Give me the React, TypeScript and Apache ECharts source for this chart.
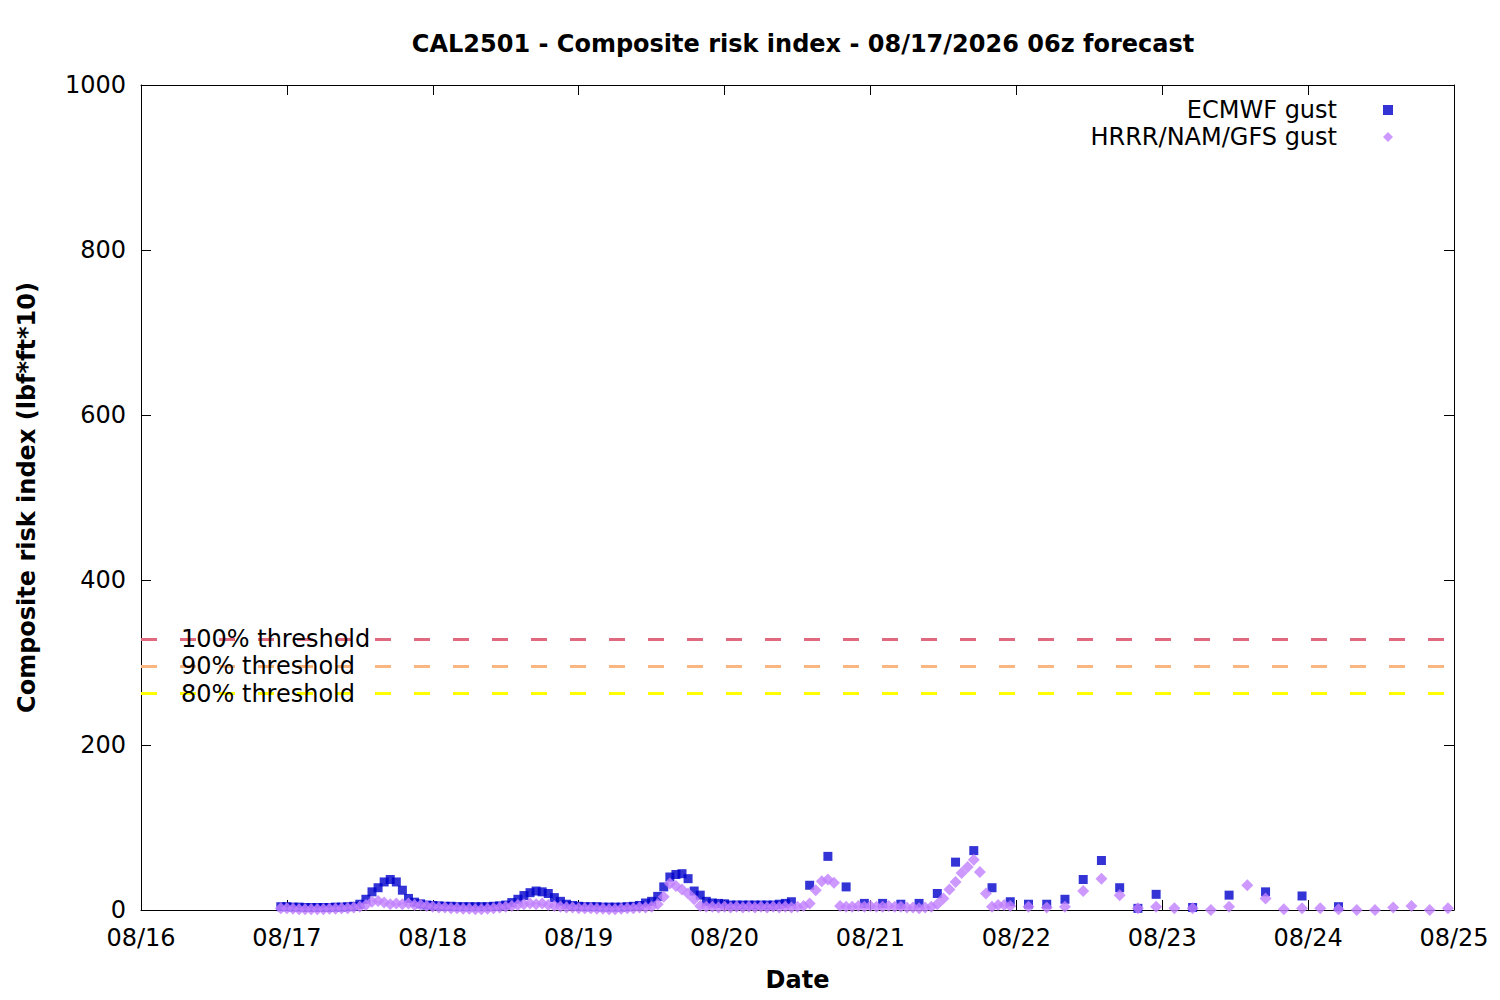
import React, { useEffect, useRef } from "react";
import * as echarts from "echarts";

// First forecast time: 08/16 23:00 local (06z run), hours counted from 08/16 00:00
const START_HOUR = 23;

// ECMWF gust composite risk index
const ecmwfHourly = [
  4, 4, 3.5, 3.5, 3, 3, 3, 3, 3, 3.5, 3.5, 4,
  4.5, 7, 13, 22, 27, 34, 37, 34, 24, 14, 9.5, 7.5, 6,
  5.5, 5, 4.5, 4.5, 4, 4, 4, 4, 4, 4, 4.5,
  5, 6, 9, 13, 17.5, 21, 23, 22, 20, 15, 10.5, 7, 5.5, 4.5,
  4, 4, 4, 3.5, 3.5, 3.5, 3.5, 4, 4.5, 5.5,
  8.5, 10.5, 16.5, 28, 40, 43, 44, 38, 23, 18, 10.5, 8.5, 8, 7.5,
  6, 6, 6, 6, 6, 6, 6, 6, 7, 8, 10,
];
const ecmwf3h = [30, 65, 28, 8, 8, 7, 8, 20, 58, 72, 27, 10, 7, 7, 13, 37, 60, 27, 2, 19];
const ecmwf6h = [3, 18, 22, 17, 4];

// HRRR/NAM/GFS gust composite risk index
const modelHourly = [
  2, 2, 1.5, 1, 1, 1, 1, 1, 1.5, 1.5, 2, 2, 3,
  4, 6, 10, 11, 9, 7, 8, 7, 8, 6, 6, 5, 4, 3, 3,
  2, 2, 1.5, 1.5, 1, 1, 1.5, 2,
  3, 4, 5, 6, 7, 8, 7, 8, 6, 5, 4, 3, 3,
  2, 2, 2, 1.5, 1.5, 1, 1, 1.5, 2, 2,
  3, 3, 4, 7, 16, 32, 29, 25, 20, 13, 5, 4,
  4, 3, 4, 3, 4, 3, 4, 3, 4, 3, 4, 3, 4, 3, 4, 5,
  8, 24, 35, 37, 33, 5,
  4, 4, 5, 4, 5, 4, 4, 5, 4, 4, 3, 3, 2, 3, 4,
  7, 14, 25, 34, 45, 52, 61, 46, 20, 4, 6, 6, 5,
];
const model3h = [4, 3, 4, 23, 38, 18, 2, 4, 2, 2, 0, 4, 30, 14, 1, 2, 2, 1, 0, 0, 3, 5, 0, 2];

const dayTicks = ["08/16", "08/17", "08/18", "08/19", "08/20", "08/21", "08/22", "08/23", "08/24", "08/25"];

const thresholdNames = ["100% threshold", "90% threshold", "80% threshold"];
const thresholdValues = [328, 295.2, 262.4];
const thresholdColors = ["#e0697f", "#f9b681", "#ffff00"];

type Segment = [number, number, number[]]; // [first forecast hour, step hours, values]

function toPoints(segments: Segment[]): number[][] {
  const pts: number[][] = [];
  segments.forEach(([first, step, vals]) => {
    vals.forEach((v, i) => pts.push([START_HOUR + first + i * step, v]));
  });
  return pts;
}

const FONT = "DejaVu Sans";
const FS = 24;

export default function App() {
  const ref = useRef<HTMLDivElement>(null);
  useEffect(() => {
    if (!ref.current) return;
    const chart = echarts.init(ref.current, undefined, { renderer: "svg" });
    const ecmwfData = toPoints([
      [0, 1, ecmwfHourly],
      [87, 3, ecmwf3h],
      [150, 6, ecmwf6h],
    ]);
    const modelData = toPoints([
      [0, 1, modelHourly],
      [123, 3, model3h],
    ]);
    const tickCommon = {
      show: true,
      inside: true,
      length: 10,
      lineStyle: { color: "#000", width: 1 },
    };
    const lineCommon = { show: true, onZero: false, lineStyle: { color: "#000", width: 1 } };
    chart.setOption({
      animation: false,
      backgroundColor: "#fff",
      textStyle: { fontFamily: FONT },
      title: {
        text: "CAL2501 - Composite risk index - 08/17/2026 06z forecast",
        left: 798,
        top: 27,
        textAlign: "center",
        textStyle: { fontFamily: FONT, fontSize: FS, fontWeight: "bold", color: "#000" },
      },
      legend: {
        orient: "vertical",
        right: 107,
        top: 98,
        padding: 0,
        align: "right",
        itemWidth: 10,
        itemHeight: 10,
        itemGap: 3,
        data: [
          { name: "ECMWF gust", icon: "rect" },
          { name: "HRRR/NAM/GFS gust", icon: "diamond" },
        ],
        textStyle: {
          fontFamily: FONT,
          fontSize: FS,
          color: "#000",
          lineHeight: 24,
          padding: [0, 41, 0, 0],
        },
      },
      grid: { left: 141, top: 85, right: 46, bottom: 90, containLabel: false },
      xAxis: [
        {
          type: "value",
          min: 0,
          max: 216,
          interval: 24,
          name: "Date",
          nameLocation: "middle",
          nameGap: 58,
          nameTextStyle: { fontFamily: FONT, fontSize: FS, fontWeight: "bold", color: "#000" },
          axisLine: lineCommon,
          axisTick: tickCommon,
          splitLine: { show: false },
          axisLabel: {
            fontFamily: FONT,
            fontSize: FS,
            color: "#000",
            margin: 16,
            formatter: (v: number) => dayTicks[Math.round(v / 24)] ?? "",
          },
        },
        {
          type: "value",
          position: "top",
          min: 0,
          max: 216,
          interval: 24,
          axisLine: lineCommon,
          axisTick: tickCommon,
          splitLine: { show: false },
          axisLabel: { show: false },
        },
      ],
      yAxis: [
        {
          type: "value",
          min: 0,
          max: 1000,
          interval: 200,
          name: "Composite risk index (lbf*ft*10)",
          nameLocation: "middle",
          nameGap: 102,
          nameTextStyle: { fontFamily: FONT, fontSize: FS, fontWeight: "bold", color: "#000" },
          axisLine: lineCommon,
          axisTick: tickCommon,
          splitLine: { show: false },
          axisLabel: {
            fontFamily: FONT,
            fontSize: FS,
            color: "#000",
            margin: 15,
            formatter: (v: number) => String(v),
          },
        },
        {
          type: "value",
          position: "right",
          min: 0,
          max: 1000,
          interval: 200,
          axisLine: lineCommon,
          axisTick: tickCommon,
          splitLine: { show: false },
          axisLabel: { show: false },
        },
      ],
      series: [
        {
          name: "ECMWF gust",
          type: "scatter",
          symbol: "rect",
          symbolSize: 9,
          itemStyle: { color: "#0000cc" },
          data: ecmwfData,
          markLine: {
            silent: true,
            symbol: "none",
            animation: false,
            data: thresholdValues.map((v, i) => ({
              yAxis: v,
              lineStyle: { color: thresholdColors[i], width: 3, type: [16, 23] },
              label: {
                show: true,
                position: "insideStart",
                distance: [40, 0],
                formatter: thresholdNames[i],
                fontFamily: FONT,
                fontSize: FS,
                color: "#000",
              },
            })),
          },
        },
        {
          name: "HRRR/NAM/GFS gust",
          type: "scatter",
          symbol: "diamond",
          symbolSize: 12,
          itemStyle: { color: "#c080ff" },
          data: modelData,
        },
      ],
    });
    return () => chart.dispose();
  }, []);
  return (
    <div
      ref={ref}
      style={{ position: "absolute", left: 0, top: 0, width: 1500, height: 1000 }}
    />
  );
}
